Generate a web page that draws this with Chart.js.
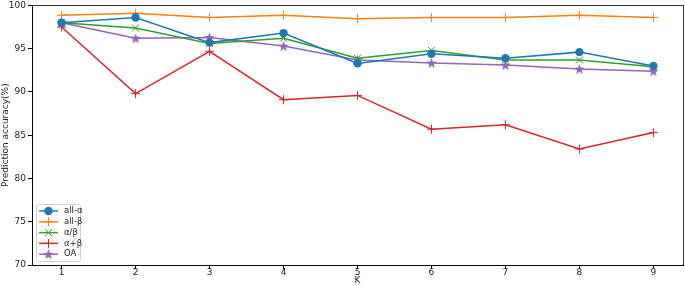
<!DOCTYPE html>
<html>
<head>
<meta charset="utf-8">
<script src="https://cdn.jsdelivr.net/npm/chart.js@4.4.0/dist/chart.umd.min.js"></script>
<style>
  html, body { margin: 0; padding: 0; background: #fff; overflow: hidden; }
  #wrap { width: 685px; height: 286px; overflow: hidden; position: relative; }
  #chart { position: absolute; left: 0; top: -2px; }
</style>
</head>
<body>
<div id="wrap"><canvas id="chart" width="689" height="288"></canvas></div>
<script>
// values
var kValues = [1, 2, 3, 4, 5, 6, 7, 8, 9];
var allAlpha = [98.0, 98.6, 95.7, 96.8, 93.3, 94.4, 93.9, 94.6, 93.0];
var allBeta = [98.85, 99.1, 98.6, 98.85, 98.45, 98.6, 98.6, 98.85, 98.6];
var alphaSlashBeta = [98.0, 97.4, 95.6, 96.2, 93.9, 94.8, 93.7, 93.7, 92.9];
var alphaPlusBeta = [97.5, 89.8, 94.7, 89.1, 89.6, 85.7, 86.2, 83.4, 85.3];
var oaValues = [98.0, 96.2, 96.3, 95.3, 93.7, 93.35, 93.1, 92.65, 92.4];
var seriesNames = ["all-α", "all-β", "α/β", "α+β", "OA"];
var yTicks = [70, 75, 80, 85, 90, 95, 100];

var colors = ["#1f77b4", "#ff7f0e", "#2ca02c", "#d62728", "#9467bd"];
var markers = ["circle", "cross", "crossRot", "cross", "star"];
var font = "'DejaVu Sans', sans-serif";

function toPoints(arr) {
	return arr.map(function (v, i) { return { x: kValues[i], y: v }; });
}

// filled 5 point star, like matplotlib '*'
function starImage(color, r) {
	var c = document.createElement("canvas");
	var s = Math.ceil(r * 2 + 2);
	c.width = s; c.height = s;
	var g = c.getContext("2d");
	drawStar(g, s / 2, s / 2 + r * 0.08, r, color);
	return c;
}

function drawStar(g, cx, cy, r, color) {
	g.beginPath();
	for (var i = 0; i < 10; i++) {
		var rad = (i % 2 === 0) ? r : r * 0.42;
		var a = -Math.PI / 2 + i * Math.PI / 5;
		var px = cx + rad * Math.cos(a), py = cy + rad * Math.sin(a);
		if (i === 0) g.moveTo(px, py); else g.lineTo(px, py);
	}
	g.closePath();
	g.fillStyle = color;
	g.fill();
}

function drawMarker(g, style, x, y, color) {
	g.save();
	g.strokeStyle = color;
	g.fillStyle = color;
	if (style === "circle") {
		g.beginPath();
		g.arc(x, y, 4.2, 0, Math.PI * 2);
		g.fill();
	} else if (style === "cross") {
		g.lineWidth = 1;
		g.beginPath();
		g.moveTo(x - 4.5, y); g.lineTo(x + 4.5, y);
		g.moveTo(x, y - 4.5); g.lineTo(x, y + 4.5);
		g.stroke();
	} else if (style === "crossRot") {
		g.lineWidth = 1;
		g.beginPath();
		g.moveTo(x - 3.5, y - 3.5); g.lineTo(x + 3.5, y + 3.5);
		g.moveTo(x + 3.5, y - 3.5); g.lineTo(x - 3.5, y + 3.5);
		g.stroke();
	} else {
		drawStar(g, x, y + 0.4, 5.5, color);
	}
	g.restore();
}

var datasets = [allAlpha, allBeta, alphaSlashBeta, alphaPlusBeta, oaValues].map(function (arr, i) {
	var style = markers[i] === "star" ? starImage(colors[i], 5.5) : markers[i];
	return {
		label: seriesNames[i],
		data: toPoints(arr),
		borderColor: colors[i],
		backgroundColor: colors[i],
		borderWidth: 1.5,
		pointStyle: style,
		pointRadius: markers[i] === "circle" ? 4.2 : (markers[i] === "crossRot" ? 5 : 4.5),
		pointBorderWidth: markers[i] === "circle" ? 0 : 1,
		pointHoverRadius: 5,
		tension: 0,
		clip: false
	};
});

// axes frame on all four sides + legend box in the lower left
var framePlugin = {
	id: "frame",
	afterDraw: function (chart) {
		var g = chart.ctx, a = chart.chartArea;
		g.save();
		g.strokeStyle = "#000";
		g.lineWidth = 0.8;
		g.strokeRect(Math.round(a.left) + 0.5, Math.round(a.top) + 0.5,
			Math.round(a.right - a.left), Math.round(a.bottom - a.top));

		// legend
		var bx = a.left + 4, by = a.bottom - 61, bw = 44, bh = 57;
		g.fillStyle = "rgba(255,255,255,0.8)";
		g.strokeStyle = "#d0d0d0";
		g.lineWidth = 1;
		g.beginPath();
		g.roundRect(bx + 0.5, by + 0.5, bw, bh, 2);
		g.fill();
		g.stroke();
		g.font = "8.5px " + font;
		g.textBaseline = "middle";
		for (var i = 0; i < seriesNames.length; i++) {
			var ly = by + 7 + i * 10.8;
			g.strokeStyle = colors[i];
			g.lineWidth = 1.5;
			g.beginPath();
			g.moveTo(bx + 3, ly);
			g.lineTo(bx + 22, ly);
			g.stroke();
			drawMarker(g, markers[i], bx + 12.5, ly, colors[i]);
			g.fillStyle = "#222";
			g.fillText(seriesNames[i], bx + 28, ly);
		}
		g.restore();
	}
};

var ctx = document.getElementById("chart");

var chart = new Chart(ctx, {
	type: "line",
	data: { datasets: datasets },
	options: {
		responsive: false,
		animation: false,
		layout: { padding: { top: 3, right: 1, left: 0, bottom: 0 } },
		plugins: {
			legend: { display: false },
			tooltip: { enabled: false }
		},
		scales: {
			x: {
				type: "linear",
				min: 0.6,
				max: 9.4,
				afterBuildTicks: function (scale) {
					scale.ticks = kValues.map(function (v) { return { value: v }; });
				},
				grid: { drawOnChartArea: false, tickLength: 4, color: "#000" },
				border: { color: "#000", width: 0.8 },
				ticks: { color: "#222", font: { family: font, size: 9 }, padding: -2, maxRotation: 0 },
				title: { display: true, text: "K", color: "#222", font: { family: font, size: 9 }, padding: { top: 1, bottom: 0 } },
				afterFit: function (scale) {
					scale.height = 21;
				}
			},
			y: {
				min: 70,
				max: 100,
				afterBuildTicks: function (scale) {
					scale.ticks = yTicks.map(function (v) { return { value: v }; });
				},
				grid: { drawOnChartArea: false, tickLength: 4, color: "#000" },
				border: { color: "#000", width: 0.8 },
				ticks: { color: "#222", font: { family: font, size: 9 }, padding: 2 },
				title: { display: true, text: "Prediction accuracy(%)", color: "#222", font: { family: font, size: 9 }, padding: { top: 0, bottom: 0 } },
				afterFit: function (scale) {
					scale.width = 32;
				}
			}
		}
	},
	plugins: [framePlugin]
});
</script>
</body>
</html>
